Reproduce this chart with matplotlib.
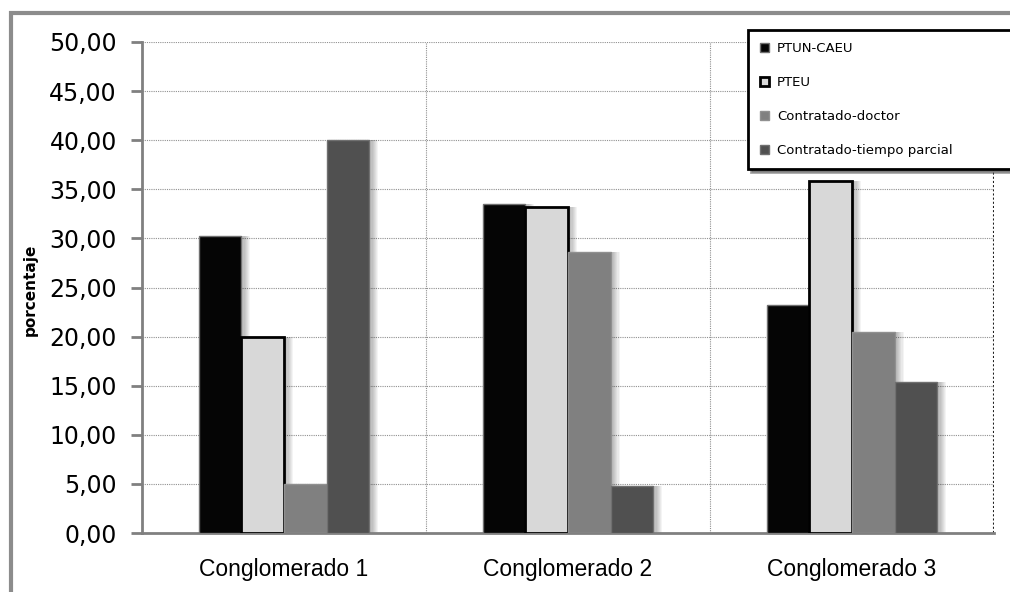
#!/usr/bin/env python3
# -*- coding: utf-8 -*-
import numpy as np
import matplotlib
matplotlib.use('Agg')
import matplotlib.pyplot as plt
from matplotlib.patches import Rectangle

# ------------------------------------------------------------------------------
#   Data
# ------------------------------------------------------------------------------
groups = ['Conglomerado 1', 'Conglomerado 2', 'Conglomerado 3']
series = ['PTUN-CAEU', 'PTEU', 'Contratado-doctor', 'Contratado-tiempo parcial']
ptun_caeu = [30.2, 33.5, 23.2]
pteu = [20.0, 33.2, 35.8]
contratado_doctor = [5.0, 28.6, 20.5]
contratado_parcial = [40.0, 4.8, 15.4]
yticks = np.arange(0, 50.01, 5)

values = [ptun_caeu, pteu, contratado_doctor, contratado_parcial]
colors = ['#050505', '#d8d8d8', '#808080', '#505050']
edges = ['#707070', '#000000', '#909090', '#707070']
lws = [1.0, 2.0, 1.0, 1.0]


def main():
    fig = plt.figure(figsize=(10.1, 5.92), dpi=100)
    ax = fig.add_axes([142/1010, 1 - 533/592, (994-142)/1010, (533-42)/592])

    x = np.arange(len(groups))
    w = 0.15
    offsets = (np.arange(4) - 1.5) * w
    for i in range(4):
        xs = x + offsets[i]
        # soft shadow to the right
        for k in range(6):
            ax.bar(xs + 0.012 + k*0.004, values[i], width=w, color='black',
                   alpha=0.045, linewidth=0, zorder=2)
        ax.bar(xs, values[i], width=w, color=colors[i], edgecolor=edges[i],
               linewidth=lws[i], label=series[i], zorder=3)

    ax.set_xlim(-0.5, 2.5)
    ax.set_ylim(0, 50)
    ax.set_yticks(yticks)
    ax.set_yticklabels([('%.2f' % v).replace('.', ',') for v in yticks], fontsize=17)
    ax.set_xticks(x)
    ax.set_xticklabels(groups, fontsize=16.5, family='Liberation Sans')
    ax.tick_params(axis='x', length=0, pad=18)
    ax.tick_params(axis='y', length=8, width=2, color='#808080', pad=10)

    ax.yaxis.grid(True, linestyle=(0, (1, 1)), color='#909090', linewidth=0.8, zorder=0)
    for xv in [0.5, 1.5]:
        ax.axvline(xv, color='#909090', linestyle=(0, (1, 1)), linewidth=0.8, zorder=0)
    ax.axvline(2.5, color='#202020', linestyle=(0, (1, 1)), linewidth=1.5, zorder=0)

    for s in ['top', 'right']:
        ax.spines[s].set_visible(False)
    ax.spines['left'].set_color('#808080')
    ax.spines['left'].set_linewidth(2)
    ax.spines['bottom'].set_color('#808080')
    ax.spines['bottom'].set_linewidth(2)

    fig.text(30/1010, 1 - 290/592, 'porcentaje', rotation=90, fontsize=11,
             fontweight='bold', family='Liberation Sans Narrow', va='center', ha='center')

    x0 = (748-142)/(994-142)
    leg = ax.legend(loc='upper left',
                    bbox_to_anchor=(x0, 1 + 12/491 - 0.01, (1012-748)/(994-142), 0.01),
                    mode='expand', fontsize=9.5, frameon=True, fancybox=False, shadow=True,
                    handlelength=0.7, handleheight=0.7, handletextpad=0.6,
                    labelspacing=1.6, borderpad=0.9, borderaxespad=0)
    leg.get_frame().set_edgecolor('black')
    leg.get_frame().set_linewidth(2)
    leg.set_zorder(10)

    # outer chart frame
    fig.patches.append(Rectangle((11/1010, -0.05), 1.2, 1 - 13/592 + 0.05,
                                 transform=fig.transFigure, fill=False,
                                 edgecolor='#8c8c8c', linewidth=3))

    fig.savefig('out.png', dpi=100)


if __name__ == '__main__':
    plt.close('all')
    main()
